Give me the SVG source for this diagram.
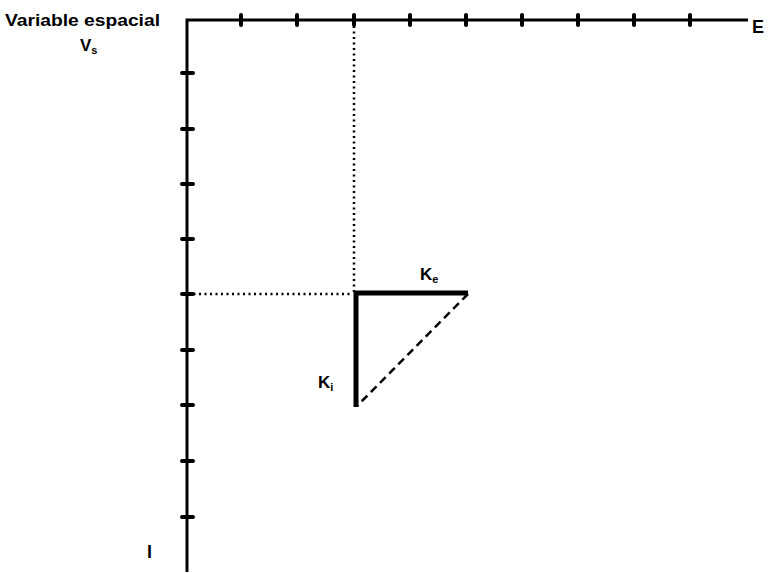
<svg xmlns="http://www.w3.org/2000/svg" width="783" height="573" viewBox="0 0 783 573">
<style>
.ax{stroke:#000;stroke-width:3;fill:none}
.tk{stroke:#000;stroke-width:4;stroke-linecap:round}
.dot{stroke:#000;stroke-width:2.5;stroke-dasharray:2 3.5;fill:none}
.thk{stroke:#000;stroke-width:5;fill:none}
.dsh{stroke:#000;stroke-width:2.5;stroke-dasharray:8 5;fill:none}
text{font-family:"Liberation Sans",Arial,sans-serif;font-weight:bold;fill:#000}
</style>
<rect width="783" height="573" fill="#fff"/>
<g id="axes">
<path class="ax" d="M187 572 V20 H748"/>
<g id="ticks-x">
<line class="tk" x1="241" y1="15" x2="241" y2="25"/>
<line class="tk" x1="297" y1="15" x2="297" y2="25"/>
<line class="tk" x1="354" y1="15" x2="354" y2="25"/>
<line class="tk" x1="410" y1="15" x2="410" y2="25"/>
<line class="tk" x1="466" y1="15" x2="466" y2="25"/>
<line class="tk" x1="522" y1="15" x2="522" y2="25"/>
<line class="tk" x1="578" y1="15" x2="578" y2="25"/>
<line class="tk" x1="634" y1="15" x2="634" y2="25"/>
<line class="tk" x1="690" y1="15" x2="690" y2="25"/>
</g>
<g id="ticks-y">
<line class="tk" x1="182" y1="73" x2="193" y2="73"/>
<line class="tk" x1="182" y1="129" x2="193" y2="129"/>
<line class="tk" x1="182" y1="184" x2="193" y2="184"/>
<line class="tk" x1="182" y1="239" x2="193" y2="239"/>
<line class="tk" x1="182" y1="294" x2="193" y2="294"/>
<line class="tk" x1="182" y1="350" x2="193" y2="350"/>
<line class="tk" x1="182" y1="405" x2="193" y2="405"/>
<line class="tk" x1="182" y1="461" x2="193" y2="461"/>
<line class="tk" x1="182" y1="517" x2="193" y2="517"/>
</g>
</g>
<g id="connectors">
<line class="dot" x1="354" y1="26" x2="354" y2="292"/>
<line class="dot" x1="188" y1="294" x2="352" y2="294"/>
<path class="thk" d="M468 293 H356 V407"/>
<line class="dsh" x1="468" y1="294" x2="357" y2="406"/>
</g>
<g id="labels">
<text x="5" y="26" font-size="16" textLength="155" lengthAdjust="spacingAndGlyphs">Variable espacial</text>
<text x="80" y="51" font-size="17">V<tspan font-size="11" dy="3">s</tspan></text>
<text x="752" y="33" font-size="18">E</text>
<text x="147" y="558" font-size="18" font-family="Liberation Serif,serif">I</text>
<text x="420" y="280" font-size="17">K<tspan font-size="11" dy="3">e</tspan></text>
<text x="318" y="388" font-size="17">K<tspan font-size="11" dy="3">i</tspan></text>
</g>
</svg>
